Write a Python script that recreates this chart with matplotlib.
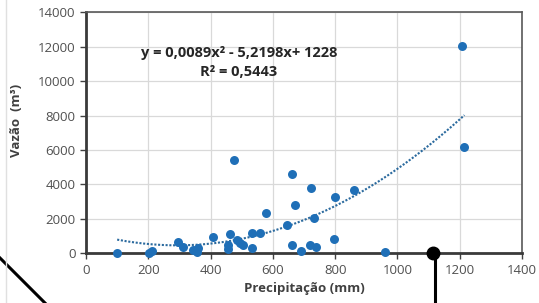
import numpy as np
import matplotlib.pyplot as plt
from matplotlib.lines import Line2D

# Precipitation (mm) vs discharge (m3)
precip = [100, 203, 213, 294, 310, 345, 361, 355, 407, 462, 457, 457, 475, 484,
          494, 505, 534, 532, 560, 577, 644, 660, 661, 671, 690, 720, 724, 732,
          740, 796, 800, 861, 960, 1206, 1215]
vazao = [0, 40, 150, 650, 390, 200, 300, 90, 960, 1110, 460, 240, 5420, 780,
         620, 480, 320, 1170, 1170, 2340, 1640, 500, 4630, 2790, 110, 500, 3810, 2070,
         380, 830, 3290, 3660, 90, 12060, 6160]

# Excel polynomial trendline as printed on the chart
trend_coef = [0.0089, -5.2198, 1228]
eq_text = "y = 0,0089x² - 5,2198x+ 1228"
r2_text = "R² = 0,5443"

xticks = list(range(0, 1401, 200))
yticks = list(range(0, 14001, 2000))

plt.rcParams['font.family'] = ['Open Sans', 'DejaVu Sans']

fig = plt.figure(figsize=(5.39, 3.03), dpi=100)
ax = fig.add_axes([0.1596, 0.164, 0.8089, 0.7954])

blue = '#1f6fb7'
ax.scatter(precip, vazao, s=42, color=blue, zorder=3, clip_on=False, linewidths=0)

xt = np.linspace(min(precip), max(precip), 200)
ax.plot(xt, np.polyval(trend_coef, xt), linestyle=(0, (1, 0.8)), color='#2b6a9e',
        linewidth=1.5, zorder=2)

ax.set_xlim(0, 1400)
ax.set_ylim(0, 14000)
ax.set_xticks(xticks)
ax.set_yticks(yticks)
ax.grid(True, color='#d9d9d9', linewidth=0.9)
ax.set_axisbelow(True)
ax.tick_params(labelsize=9.5, colors='#404040', labelcolor='#505050', length=4, width=1)
ax.tick_params(axis='x', pad=4)
for side in ['left', 'bottom']:
    ax.spines[side].set_linewidth(2.0)
    ax.spines[side].set_color('#3a3a3a')
for side in ['top', 'right']:
    ax.spines[side].set_linewidth(1.2)
    ax.spines[side].set_color('#595959')

ax.set_xlabel("Precipitação (mm)", fontsize=9.5, fontweight='bold', color='#404040', labelpad=3)
ax.set_ylabel("Vazão  (m³)", fontsize=9.5, fontweight='bold', color='#404040')
ax.yaxis.set_label_coords(-0.145, 0.55)

ax.text(239 / 539, 1 - 53 / 303, eq_text, transform=fig.transFigure, ha='center',
        va='center', fontsize=10.5, fontweight='bold', color='#262626')
ax.text(239 / 539, 1 - 72 / 303, r2_text, transform=fig.transFigure, ha='center',
        va='center', fontsize=10.5, fontweight='bold', color='#262626')

# annotation marks drawn over the screenshot
ax.plot([1115], [0], 'o', color='black', markersize=9, clip_on=False, zorder=5)
fig.add_artist(Line2D([435 / 539, 435 / 539], [1 - 253 / 303, 0], color='black',
                      linewidth=2.2))
fig.add_artist(Line2D([0, 45 / 539], [1 - 258 / 303, 0], color='black', linewidth=2.2))
fig.add_artist(Line2D([6 / 539, 6 / 539], [0, 1], color='#e0e0e0', linewidth=1))

fig.savefig('out.png', dpi=100)
